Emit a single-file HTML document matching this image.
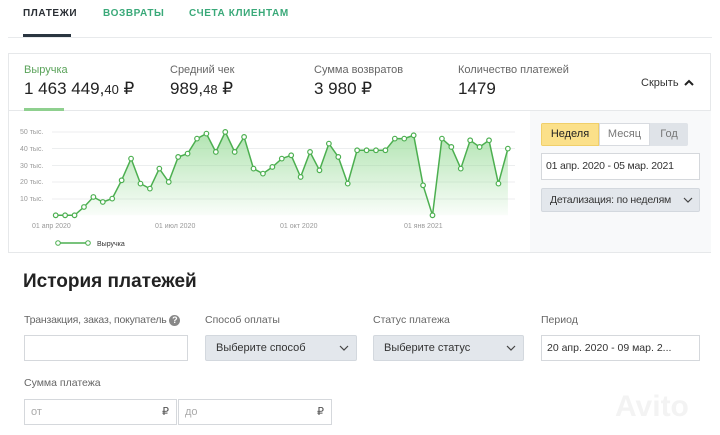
<!DOCTYPE html>
<html><head><meta charset="utf-8"><style>
body{margin:0;width:720px;height:435px;background:#fff;font-family:"Liberation Sans",sans-serif;position:relative;overflow:hidden;color:#222}
.a{position:absolute;white-space:nowrap}
.tab{font-size:10px;font-weight:bold;letter-spacing:.6px;top:8px}
.lbl{font-size:11px;color:#666}
.val{font-size:17px;color:#222}
.inp{position:absolute;border:1px solid #d5d8dc;background:#fff;box-sizing:border-box;font-size:11px;color:#333;white-space:nowrap;overflow:hidden}
.sel{position:absolute;background:#e3e7ec;border:1px solid #d3d8de;box-sizing:border-box;font-size:11px;color:#333;border-radius:2px;white-space:nowrap}
.fl{font-size:10.5px;color:#666;position:absolute;white-space:nowrap}
</style></head><body>
<div class="a tab" style="left:23px;color:#2a2f35">ПЛАТЕЖИ</div>
<div class="a tab" style="left:103px;color:#3aa979">ВОЗВРАТЫ</div>
<div class="a tab" style="left:189px;color:#3aa979">СЧЕТА КЛИЕНТАМ</div>
<div class="a" style="left:23px;top:34px;width:48px;height:3px;background:#2a3540"></div>
<div class="a" style="left:8px;top:37px;width:704px;height:1px;background:#e8eaec"></div>

<div class="a" style="left:8px;top:53px;width:703px;height:200px;border:1px solid #e6e8ea;box-sizing:border-box"></div>
<div class="a" style="left:9px;top:110px;width:702px;height:1px;background:#e6e8ea"></div>
<div class="a" style="left:24px;top:108px;width:40px;height:3px;background:#8fd08f"></div>
<div class="a lbl" style="left:24px;top:64px;color:#5aa35a">Выручка</div>
<div class="a val" style="left:24px;top:79px">1 463 449,<span style="font-size:13px">40</span> ₽</div>
<div class="a lbl" style="left:170px;top:64px">Средний чек</div>
<div class="a val" style="left:170px;top:79px">989,<span style="font-size:13px">48</span> ₽</div>
<div class="a lbl" style="left:314px;top:64px">Сумма возвратов</div>
<div class="a val" style="left:314px;top:79px">3 980 ₽</div>
<div class="a lbl" style="left:458px;top:64px">Количество платежей</div>
<div class="a val" style="left:458px;top:79px">1479</div>
<div class="a" style="left:641px;top:77px;font-size:11px;color:#333">Скрыть</div>
<svg class="a" style="left:683px;top:78px" width="12" height="10"><path d="M2 7 L6 3 L10 7" fill="none" stroke="#222" stroke-width="2"/></svg>

<div class="a" style="left:530px;top:111px;width:181px;height:141px;background:#f8f9fa"></div>
<div class="a" style="left:541px;top:123px;width:147px;height:23px;border-radius:2px;overflow:hidden;font-size:11px">
<div class="a" style="left:0;top:0;width:58px;height:23px;background:#fbe08a;border:1px solid #f0cf6a;box-sizing:border-box;text-align:center;line-height:21px">Неделя</div>
<div class="a" style="left:58px;top:0;width:51px;height:23px;background:#fff;border:1px solid #d8dbe0;box-sizing:border-box;text-align:center;line-height:21px;color:#777">Месяц</div>
<div class="a" style="left:109px;top:0;width:38px;height:23px;background:#dfe3e8;text-align:center;line-height:23px;color:#777">Год</div>
</div>
<div class="inp" style="left:541px;top:153px;width:159px;height:27px;line-height:25px;padding-left:4px;font-size:10.5px;letter-spacing:-.2px">01 апр. 2020 - 05 мар. 2021</div>
<div class="sel" style="left:541px;top:188px;width:159px;height:24px;line-height:22px;padding-left:8px;font-size:10.5px;letter-spacing:-.2px">Детализация: по неделям</div>
<svg class="a" style="left:683px;top:196px" width="10" height="8"><path d="M1 2 L5 6 L9 2" fill="none" stroke="#444" stroke-width="1.2"/></svg>

<svg class="a" style="left:0;top:110px" width="530" height="143" id="c">
<defs><linearGradient id="g" x1="0" y1="0" x2="0" y2="1"><stop offset="0" stop-color="#8fd88f" stop-opacity=".7"/><stop offset="1" stop-color="#8fd88f" stop-opacity=".05"/></linearGradient></defs>
<g stroke="#eceeef" stroke-width="1">
<line x1="52" x2="515" y1="22" y2="22"/><line x1="52" x2="515" y1="38.5" y2="38.5"/><line x1="52" x2="515" y1="55.5" y2="55.5"/><line x1="52" x2="515" y1="72" y2="72"/><line x1="52" x2="515" y1="89" y2="89"/></g>
<g font-size="7" fill="#999" font-family="Liberation Sans,sans-serif">
<text x="20" y="24">50 тыс.</text><text x="20" y="41">40 тыс.</text><text x="20" y="58">30 тыс.</text><text x="20" y="74">20 тыс.</text><text x="20" y="91">10 тыс.</text>
<text x="32" y="118">01 апр 2020</text><text x="155" y="118">01 июл 2020</text><text x="280" y="118">01 окт 2020</text><text x="404" y="118">01 янв 2021</text>
<text x="97" y="136" fill="#333">Выручка</text></g>
<line x1="58" x2="88" y1="133" y2="133" stroke="#4caf50" stroke-width="1.5"/>
<circle cx="58" cy="133" r="2.3" fill="#fff" stroke="#4caf50"/><circle cx="88" cy="133" r="2.3" fill="#fff" stroke="#4caf50"/>
</svg>
<script>
var v=[0,0,0,5,11,8,10,21,34,19,16,28,20,35,37,46,49,38,50,38,47,28,25,29,34,36,23,38,27,43,35,19,39,39,39,39,46,46,48,18,0,46,41,28,45,41,45,19,40];
var s=document.getElementById('c'),ns='http://www.w3.org/2000/svg',p=[];
v.forEach(function(d,i){p.push([55.7+i*9.42,105.3-d*1.667])});
var pts=p.map(function(a){return a[0].toFixed(1)+','+a[1].toFixed(1)}).join(' ');
var ar=document.createElementNS(ns,'polygon');ar.setAttribute('points','55.7,105.3 '+pts+' '+p[p.length-1][0].toFixed(1)+',105.3');ar.setAttribute('fill','url(#g)');s.appendChild(ar);
var pl=document.createElementNS(ns,'polyline');pl.setAttribute('points',pts);pl.setAttribute('fill','none');pl.setAttribute('stroke','#4caf50');pl.setAttribute('stroke-width','1.5');s.appendChild(pl);
p.forEach(function(a){var c=document.createElementNS(ns,'circle');c.setAttribute('cx',a[0]);c.setAttribute('cy',a[1]);c.setAttribute('r','2.3');c.setAttribute('fill','#fff');c.setAttribute('stroke','#4caf50');c.setAttribute('stroke-width','1.2');s.appendChild(c)});
</script>

<div class="a" style="left:23px;top:271px;font-size:19px;font-weight:bold;color:#222">История платежей</div>
<div class="fl" style="left:24px;top:314px;letter-spacing:-.2px">Транзакция, заказ, покупатель <span style="display:inline-block;width:11px;height:11px;border-radius:50%;background:#888;color:#fff;font-size:9px;text-align:center;line-height:11px;font-weight:bold">?</span></div>
<div class="fl" style="left:205px;top:314px">Способ оплаты</div>
<div class="fl" style="left:373px;top:314px">Статус платежа</div>
<div class="fl" style="left:541px;top:314px">Период</div>
<div class="inp" style="left:24px;top:335px;width:164px;height:26px"></div>
<div class="sel" style="left:205px;top:335px;width:152px;height:26px;line-height:24px;padding-left:10px">Выберите способ</div>
<svg class="a" style="left:339px;top:344px" width="10" height="8"><path d="M1 2 L5 6 L9 2" fill="none" stroke="#444" stroke-width="1.2"/></svg>
<div class="sel" style="left:373px;top:335px;width:151px;height:26px;line-height:24px;padding-left:10px">Выберите статус</div>
<svg class="a" style="left:506px;top:344px" width="10" height="8"><path d="M1 2 L5 6 L9 2" fill="none" stroke="#444" stroke-width="1.2"/></svg>
<div class="inp" style="left:541px;top:335px;width:159px;height:26px;line-height:24px;padding-left:5px;font-size:10.5px">20 апр. 2020 - 09 мар. 2...</div>
<div class="fl" style="left:24px;top:377px">Сумма платежа</div>
<div class="inp" style="left:24px;top:399px;width:153px;height:26px;line-height:24px;padding-left:6px;color:#aaa">от<span class="a" style="left:137px;color:#555">₽</span></div>
<div class="inp" style="left:178px;top:399px;width:154px;height:26px;line-height:24px;padding-left:6px;color:#aaa">до<span class="a" style="left:138px;color:#555">₽</span></div>
<div class="a" style="left:615px;top:390px;font-size:30px;font-weight:bold;color:#f3f3f3">Avito</div>
</body></html>
